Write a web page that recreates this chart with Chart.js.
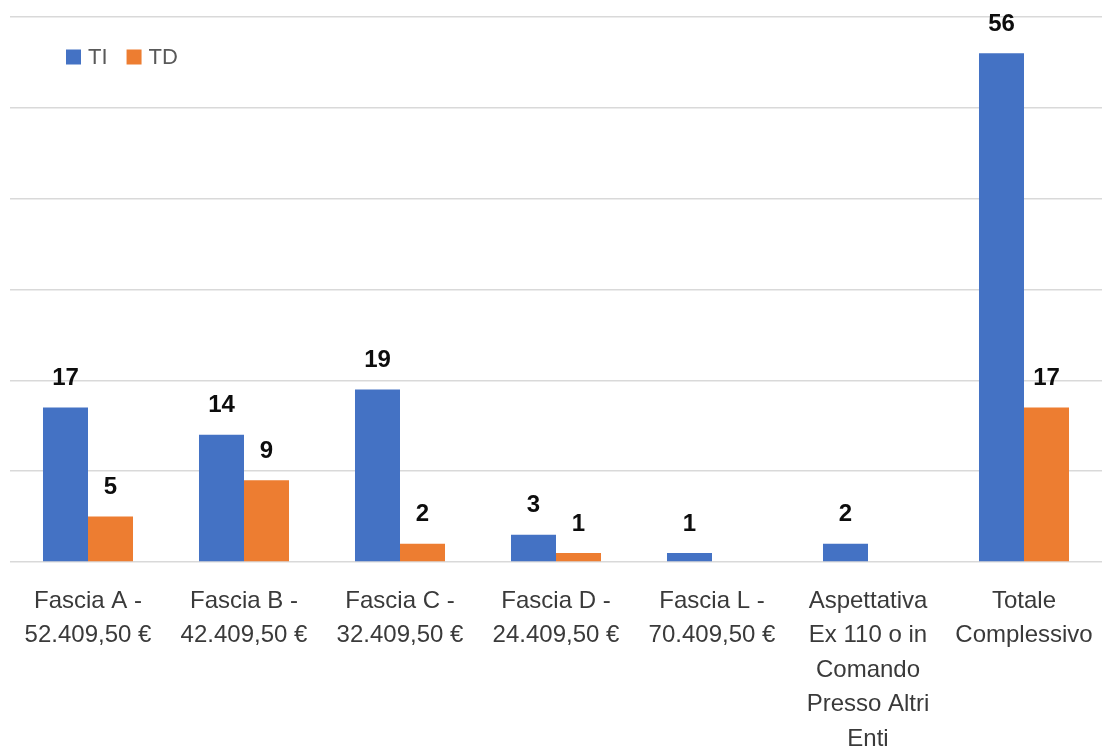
<!DOCTYPE html>
<html>
<head>
<meta charset="utf-8">
<script src="https://cdn.jsdelivr.net/npm/chart.js@4/dist/chart.umd.min.js"></script>
<style>
  html, body { margin: 0; padding: 0; background: #ffffff; }
  #wrap { width: 1103px; height: 746px; position: relative; }
</style>
</head>
<body>
<div id="wrap"><canvas id="chart"></canvas></div>
<script>
// Categories (salary bands), multi-line labels
const categories = [
  ["Fascia A -", "52.409,50 €"],
  ["Fascia B -", "42.409,50 €"],
  ["Fascia C -", "32.409,50 €"],
  ["Fascia D -", "24.409,50 €"],
  ["Fascia L -", "70.409,50 €"],
  ["Aspettativa", "Ex 110 o in", "Comando", "Presso Altri", "Enti"],
  ["Totale", "Complessivo"]
];
// Tempo indeterminato
const valuesTI = [17, 14, 19, 3, 1, 2, 56];
// Tempo determinato
const valuesTD = [5, 9, 2, 1, null, null, 17];
const seriesNames = ["TI", "TD"];
const seriesColors = ["#4472C4", "#ED7D31"];

const FONT = "'Liberation Sans', Arial, sans-serif";

// Value labels above each bar
const valueLabels = {
  id: 'valueLabels',
  afterDatasetsDraw(chart) {
    const ctx = chart.ctx;
    ctx.save();
    ctx.font = "bold 24px " + FONT;
    ctx.fillStyle = "#0d0d0d";
    ctx.textAlign = "center";
    ctx.textBaseline = "middle";
    chart.data.datasets.forEach((ds, i) => {
      const meta = chart.getDatasetMeta(i);
      meta.data.forEach((bar, j) => {
        const v = ds.data[j];
        if (v === null || v === undefined) return;
        ctx.fillText(String(v), bar.x, bar.y - 29);
      });
    });
    ctx.restore();
  }
};

// Legend drawn inside the plot area, top-left
const insideLegend = {
  id: 'insideLegend',
  afterDraw(chart) {
    const ctx = chart.ctx;
    const area = chart.chartArea;
    ctx.save();
    ctx.font = "22px " + FONT;
    ctx.textBaseline = "middle";
    ctx.textAlign = "left";
    let x = area.left + 56;
    const y = 57;
    chart.data.datasets.forEach((ds) => {
      ctx.fillStyle = ds.backgroundColor;
      ctx.fillRect(x, y - 7.5, 15, 15);
      ctx.fillStyle = "#595959";
      ctx.fillText(ds.label, x + 22, y + 1);
      x += 22 + ctx.measureText(ds.label).width + 19;
    });
    ctx.restore();
  }
};

new Chart(document.getElementById('chart'), {
  type: 'bar',
  data: {
    labels: categories,
    datasets: [
      { label: seriesNames[0], data: valuesTI, backgroundColor: seriesColors[0] },
      { label: seriesNames[1], data: valuesTD, backgroundColor: seriesColors[1] }
    ]
  },
  options: {
    responsive: true,
    maintainAspectRatio: false,
    animation: false,
    layout: { padding: { left: 10, right: 1, top: 17, bottom: 0 } },
    datasets: { bar: { barPercentage: 1.0, categoryPercentage: 0.577 } },
    plugins: {
      legend: { display: false },
      tooltip: { enabled: false }
    },
    scales: {
      x: {
        grid: { display: false, drawTicks: false },
        border: { display: false },
        ticks: {
          color: "#3a3a3a",
          padding: 22,
          maxRotation: 0,
          autoSkip: false,
          font: { family: FONT, size: 24, lineHeight: 1.4375 }
        },
        afterFit(scale) {
          scale.height = 184;
          scale.paddingLeft = 0;
          scale.paddingRight = 0;
        }
      },
      y: {
        min: 0,
        max: 60,
        ticks: { display: false, stepSize: 10 },
        grid: { color: "#d9d9d9", lineWidth: 1.5, drawTicks: false },
        border: { display: false },
        afterFit(scale) { scale.width = 0; }
      }
    }
  },
  plugins: [valueLabels, insideLegend]
});
</script>
</body>
</html>
